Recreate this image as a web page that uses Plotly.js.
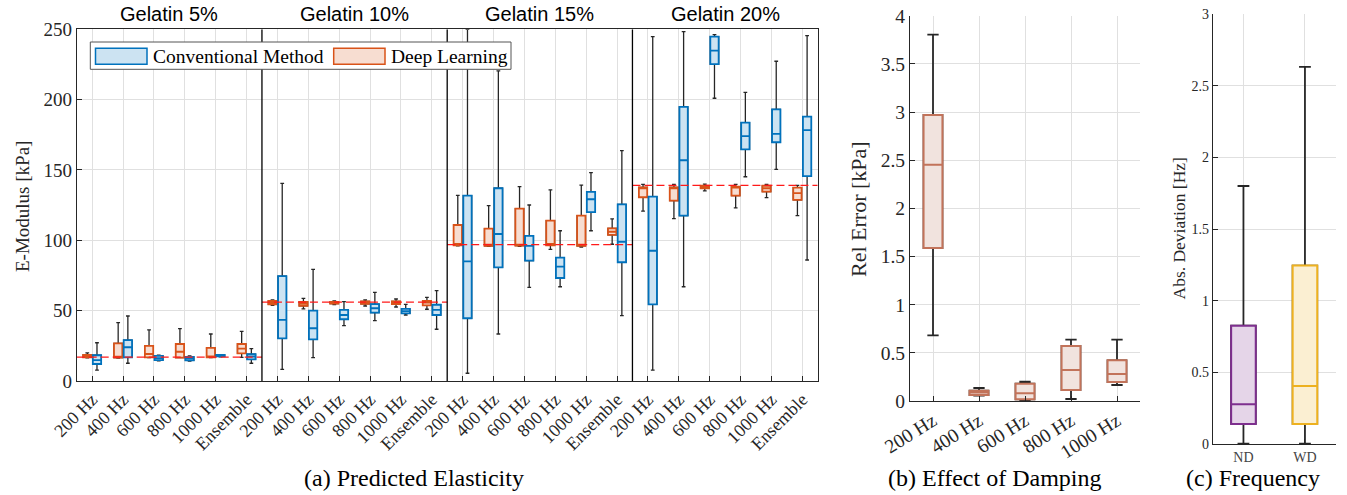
<!DOCTYPE html>
<html><head><meta charset="utf-8">
<script src="https://cdn.plot.ly/plotly-3.0.1.min.js"></script>
<style>html,body{margin:0;padding:0;background:#fff}#chart{width:1347px;height:495px}</style>
</head><body><div id="chart"></div>
<script>
// ---------------- DATA ----------------
const gelatinGroups = ['Gelatin 5%', 'Gelatin 10%', 'Gelatin 15%', 'Gelatin 20%'];
const methodLabels = ['200 Hz', '400 Hz', '600 Hz', '800 Hz', '1000 Hz', 'Ensemble'];
const refModulus = [17, 56, 97, 139];

// Deep Learning (orange), 24 boxes = 4 groups x 6 methods
const dlLower  = [16.5,16.3,16.6,16.6,16.6,16.8,  53.8,51.2,54.3,53.3,52.6,51.0,  96.0,95.7,95.7,93.6,95.2,97.2,  120.8,115.4,135.1,123.0,130.3,117.5];
const dlQ1     = [16.8,16.6,16.8,16.6,16.8,19.7,  54.5,53.5,55.0,54.9,54.6,53.8,  96.5,96.0,96.2,96.5,96.0,103.8, 130.6,128.2,137.0,131.7,134.6,128.7];
const dlMedian = [17.5,17.2,19.2,20.8,17.5,23.0,  55.8,55.0,55.6,55.7,55.5,55.7,  97.5,97.0,97.0,97.5,97.0,106.1, 137.5,137.0,138.0,137.5,137.0,133.6];
const dlQ3     = [18.5,26.8,24.9,26.3,23.5,26.3,  57.0,56.3,56.3,56.6,56.6,56.9,  110.9,108.3,122.5,114.0,117.5,108.5, 137.7,137.7,138.8,138.1,138.8,137.4];
const dlUpper  = [20.0,41.5,36.3,37.2,33.4,35.3,  57.6,58.8,57.0,57.6,58.3,59.5,  132.0,124.6,138.1,135.8,139.3,115.2, 139.8,139.8,139.9,139.8,139.8,139.1];

// Conventional Method (blue)
const cmLower  = [7.8,12.6,14.4,14.2,17.2,12.6,   8.3,16.6,39.3,42.9,46.9,36.8,   5.5,33.4,66.6,67.0,106.8,46.4,  7.8,67.0,201.0,145.2,150.5,86.0];
const cmQ1     = [12.1,16.8,14.9,14.7,17.5,15.4,  30.3,29.6,43.9,48.6,48.1,46.9,  44.6,80.8,85.5,73.2,120.1,84.4, 54.5,117.5,225.3,164.7,169.7,145.7];
const cmMedian = [14.9,24.0,16.3,16.1,18.0,17.3,  43.4,37.5,46.9,51.7,49.7,50.5,  85.1,104.5,96.0,81.3,129.2,99.0, 92.6,156.9,234.8,174.0,175.6,178.4];
const cmQ3     = [18.3,29.1,17.8,17.1,18.5,19.0,  74.6,50.0,50.5,54.7,51.2,54.2,  131.7,137.0,103.1,87.7,134.4,125.6, 131.0,194.8,244.8,183.6,193.1,187.9];
const cmUpper  = [27.2,46.2,18.3,17.8,18.8,23.0,  140.5,79.4,56.4,63.0,54.5,64.2, 250.0,220.4,125.1,106.8,148.1,163.7, 244.8,248.3,246.2,205.2,227.3,245.5];

// (b) Effect of damping
const dampLabels = ['200 Hz', '400 Hz', '600 Hz', '800 Hz', '1000 Hz'];
const dampLower  = [0.682, 0.055, 0.003, 0.021, 0.166];
const dampQ1     = [1.588, 0.062, 0.017, 0.114, 0.197];
const dampMedian = [2.453, 0.087, 0.080, 0.322, 0.280];
const dampQ3     = [2.969, 0.107, 0.180, 0.571, 0.422];
const dampUpper  = [3.803, 0.135, 0.200, 0.637, 0.637];

// (c) Frequency
const freqLabels = ['ND', 'WD'];
const freqLower  = [0.005, 0.005];
const freqQ1     = [0.142, 0.142];
const freqMedian = [0.279, 0.407];
const freqQ3     = [0.827, 1.246];
const freqUpper  = [1.801, 2.631];

// ---------------- STYLE / LAYOUT HELPERS ----------------
const W = 1347, H = 495;
const px = x => x / W;
const py = y => 1 - y / H;
const SERIF = 'Liberation Serif, Times New Roman, serif';
const SANS = 'Liberation Sans, Arial, sans-serif';
const INK = '#262626';
const GRID = '#e0e0e0';

function boxPair(xs, lo, q1, med, q3, hi, color, fill, xa, ya, width, cap, lw, wlw) {
  const common = {type: 'box', x: xs, q1: q1, median: med, q3: q3, width: width,
    xaxis: xa, yaxis: ya, boxpoints: false, hoverinfo: 'skip', showlegend: false};
  const whisk = Object.assign({}, common, {lowerfence: lo, upperfence: hi,
    line: {color: INK, width: wlw}, fillcolor: 'rgba(0,0,0,0)', whiskerwidth: cap});
  const box = Object.assign({}, common, {lowerfence: q1, upperfence: q3,
    line: {color: color, width: lw}, fillcolor: fill, whiskerwidth: 0});
  return [whisk, box];
}

const traces = [];
const nM = methodLabels.length;
const idx = [];
const tickText = [];
gelatinGroups.forEach((g, gi) => methodLabels.forEach((m, mi) => { idx.push(gi * nM + mi); tickText.push(m); }));

// reference lines (below boxes)
refModulus.forEach((r, gi) => {
  traces.push({type: 'scatter', mode: 'lines', x: [gi * nM - 0.5, gi * nM + nM - 0.5], y: [r, r],
    xaxis: 'x', yaxis: 'y', line: {color: '#ff1a1a', width: 1.2, dash: '8px,4px'},
    hoverinfo: 'skip', showlegend: false});
});

const off = 0.157, bw = 0.27;
traces.push(...boxPair(idx.map(i => i - off), dlLower, dlQ1, dlMedian, dlQ3, dlUpper,
  '#d95319', '#f7ddd1', 'x', 'y', bw, 0.45, 1.8, 1.3));
traces.push(...boxPair(idx.map(i => i + off), cmLower, cmQ1, cmMedian, cmQ3, cmUpper,
  '#0072bd', '#cce3f2', 'x', 'y', bw, 0.45, 1.8, 1.3));

// panel b
traces.push(...boxPair(dampLabels.map((d, i) => i), dampLower, dampQ1, dampMedian, dampQ3, dampUpper,
  '#c2735a', '#f1e3de', 'x2', 'y2', 0.41, 0.6, 2, 1.8));

// panel c
const freqColors = ['#7e2f8e', '#edb120'];
const freqFills = ['#e5d5e8', '#fbefd2'];
freqLabels.forEach((f, i) => {
  traces.push(...boxPair([i], [freqLower[i]], [freqQ1[i]], [freqMedian[i]], [freqQ3[i]], [freqUpper[i]],
    freqColors[i], freqFills[i], 'x3', 'y3', 0.4, 0.48, 2, 1.8));
});

function axisBase(extra) {
  return Object.assign({showline: true, linecolor: INK, linewidth: 1, showgrid: true, gridcolor: GRID,
    gridwidth: 1, zeroline: false, ticks: 'inside', ticklen: 5, tickcolor: INK, automargin: false,
    fixedrange: true}, extra);
}

const shapes = [];
for (let g = 1; g < gelatinGroups.length; g++) {
  shapes.push({type: 'line', xref: 'x', yref: 'y', x0: g * nM - 0.5, x1: g * nM - 0.5, y0: 0, y1: 250,
    line: {color: '#000', width: 1.3}});
}
// legend frame and patches
shapes.push({type: 'rect', xref: 'paper', yref: 'paper', x0: px(90.3), x1: px(511), y0: py(69.3), y1: py(42),
  line: {color: '#555', width: 1}, fillcolor: '#fff'});
shapes.push({type: 'rect', xref: 'paper', yref: 'paper', x0: px(95.5), x1: px(147), y0: py(64.3), y1: py(48.3),
  line: {color: '#0072bd', width: 1.5}, fillcolor: '#cce3f2'});
shapes.push({type: 'rect', xref: 'paper', yref: 'paper', x0: px(333.7), x1: px(385), y0: py(64.3), y1: py(48.3),
  line: {color: '#d95319', width: 1.5}, fillcolor: '#f7ddd1'});

const annotations = [];
gelatinGroups.forEach((g, gi) => annotations.push({text: g, xref: 'x', yref: 'paper', x: gi * nM + (nM - 1) / 2,
  y: py(14), showarrow: false, font: {family: SANS, size: 20, color: '#000'}, xanchor: 'center', yanchor: 'middle'}));
const legendItems = [['Conventional Method', 151], ['Deep Learning', 388.5]];
legendItems.forEach(([t, x]) => annotations.push({text: t, xref: 'paper', yref: 'paper', x: px(x), y: py(56),
  xanchor: 'left', yanchor: 'middle', showarrow: false, font: {family: SERIF, size: 19.5, color: '#000'}}));
const yTitles = [['E-Modulus [kPa]', 22, 207, 19], ['Rel Error [kPa]', 858, 209, 22], ['Abs. Deviation [Hz]', 1178.5, 229, 17.5]];
yTitles.forEach(([t, x, y, s]) => annotations.push({text: t, xref: 'paper', yref: 'paper', x: px(x), y: py(y),
  textangle: -90, xanchor: 'center', yanchor: 'middle', showarrow: false, font: {family: SERIF, size: s, color: INK}}));
const captions = [['(a) Predicted Elasticity', 414], ['(b) Effect of Damping', 994], ['(c) Frequency', 1253]];
captions.forEach(([t, x]) => annotations.push({text: t, xref: 'paper', yref: 'paper', x: px(x), y: py(478),
  xanchor: 'center', yanchor: 'middle', showarrow: false, font: {family: SERIF, size: 24, color: '#000'}}));

const layout = {
  width: W, height: H, margin: {l: 0, r: 0, t: 0, b: 0}, paper_bgcolor: '#fff', plot_bgcolor: '#fff',
  showlegend: false, boxmode: 'overlay',
  xaxis: axisBase({domain: [px(76.7), px(817.7)], anchor: 'y', range: [-0.5, 23.5], tickmode: 'array',
    tickvals: idx, ticktext: tickText, tickangle: -45, mirror: true,
    tickfont: {family: SERIF, size: 18, color: INK}}),
  yaxis: axisBase({domain: [py(381), py(29.3)], anchor: 'x', range: [0, 250], tick0: 0, dtick: 50, mirror: true,
    tickfont: {family: SERIF, size: 19, color: INK}}),
  xaxis2: axisBase({domain: [px(910), px(1140)], anchor: 'y2', range: [-0.5, 4.5], tickmode: 'array',
    tickvals: dampLabels.map((d, i) => i), ticktext: dampLabels, tickangle: -32,
    tickfont: {family: SERIF, size: 19.5, color: INK}}),
  yaxis2: axisBase({domain: [py(401), py(15.7)], anchor: 'x2', range: [0, 4], tick0: 0, dtick: 0.5,
    tickfont: {family: SERIF, size: 19.5, color: INK}}),
  xaxis3: axisBase({domain: [px(1212.7), px(1335.7)], anchor: 'y3', range: [-0.5, 1.5], tickmode: 'array',
    tickvals: freqLabels.map((d, i) => i), ticktext: freqLabels, tickangle: 0,
    tickfont: {family: SERIF, size: 14, color: '#444'}}),
  yaxis3: axisBase({domain: [py(444.3), py(14)], anchor: 'x3', range: [0, 3], tick0: 0, dtick: 0.5,
    tickfont: {family: SERIF, size: 14, color: INK}}),
  shapes: shapes, annotations: annotations
};

Plotly.newPlot('chart', traces, layout, {staticPlot: true, displayModeBar: false});
</script>
</body></html>
